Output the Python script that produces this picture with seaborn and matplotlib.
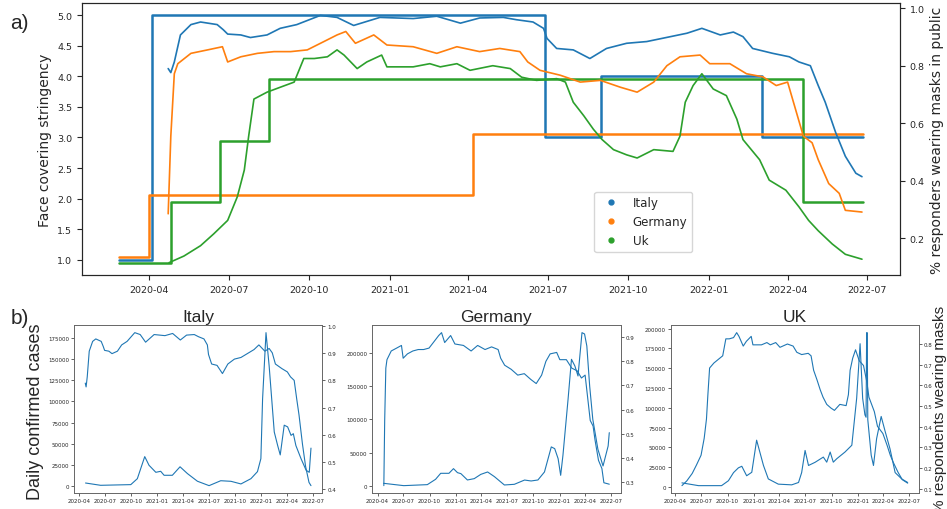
import pandas as pd
import numpy as np
import seaborn as sns
import matplotlib.pyplot as plt
import matplotlib.dates as mdates
from matplotlib.ticker import MultipleLocator
from matplotlib.lines import Line2D

sns.set_style("ticks")
plt.rcParams["font.family"] = ["DejaVu Sans"]

countries = ["Italy", "Germany", "Uk"]
panel_titles = ["Italy", "Germany", "UK"]
colors = ["#1f77b4", "#ff7f0e", "#2ca02c"]

# face covering stringency (step series, left axis of panel a)
italy_step_dates = ["2020-02-27", "2020-04-05", "2021-06-28", "2021-08-31", "2022-03-03", "2022-06-26"]
italy_step_vals = [1.0, 5.0, 3.0, 4.0, 3.0, 3.0]
germany_step_dates = ["2020-02-27", "2020-04-01", "2021-04-06", "2022-06-26"]
germany_step_vals = [1.05, 2.05, 3.05, 3.05]
uk_step_dates = ["2020-02-27", "2020-04-26", "2020-06-21", "2020-08-16", "2022-04-19", "2022-06-26"]
uk_step_vals = [0.95, 1.95, 2.95, 3.95, 1.95, 1.95]

# share of respondents wearing masks in public
italy_mask_dates = ["2020-04-23", "2020-04-26", "2020-04-30", "2020-05-07", "2020-05-19", "2020-05-30",
                    "2020-06-18", "2020-06-25", "2020-06-30", "2020-07-15", "2020-07-26", "2020-08-14",
                    "2020-08-29", "2020-09-17", "2020-10-14", "2020-11-02", "2020-11-21", "2020-12-21",
                    "2021-01-28", "2021-02-24", "2021-03-23", "2021-04-14", "2021-05-11", "2021-05-26",
                    "2021-06-14", "2021-06-26", "2021-06-30", "2021-07-11", "2021-07-30", "2021-08-18",
                    "2021-09-06", "2021-09-29", "2021-10-22", "2021-11-18", "2021-12-07", "2021-12-24",
                    "2022-01-14", "2022-01-29", "2022-02-09", "2022-02-20", "2022-03-15", "2022-04-03",
                    "2022-04-14", "2022-04-27", "2022-05-06", "2022-05-14", "2022-05-26", "2022-06-06",
                    "2022-06-18", "2022-06-25"]
italy_mask_vals = [0.79, 0.776, 0.813, 0.907, 0.943, 0.952,
                   0.943, 0.925, 0.91, 0.907, 0.898, 0.907,
                   0.93, 0.943, 0.975, 0.968, 0.94, 0.968,
                   0.964, 0.972, 0.948, 0.966, 0.968, 0.96,
                   0.952, 0.93, 0.895, 0.86, 0.855, 0.825,
                   0.86, 0.878, 0.884, 0.901, 0.913, 0.93,
                   0.907, 0.917, 0.901, 0.86, 0.843, 0.831,
                   0.813, 0.80, 0.731, 0.673, 0.567, 0.485,
                   0.426, 0.414]

germany_mask_dates = ["2020-04-23", "2020-04-26", "2020-04-30", "2020-05-04", "2020-05-19", "2020-06-07",
                      "2020-06-24", "2020-06-30", "2020-07-15", "2020-08-03", "2020-08-22", "2020-09-10",
                      "2020-09-29", "2020-10-18", "2020-11-02", "2020-11-12", "2020-11-23", "2020-12-14",
                      "2020-12-29", "2021-01-28", "2021-02-24", "2021-03-19", "2021-04-14", "2021-05-07",
                      "2021-05-30", "2021-06-08", "2021-06-22", "2021-07-15", "2021-08-07", "2021-08-30",
                      "2021-09-22", "2021-10-11", "2021-10-30", "2021-11-14", "2021-11-29", "2021-12-22",
                      "2022-01-02", "2022-01-25", "2022-02-13", "2022-03-04", "2022-03-19", "2022-04-01",
                      "2022-04-10", "2022-04-19", "2022-04-29", "2022-05-06", "2022-05-18", "2022-05-30",
                      "2022-06-06", "2022-06-25"]
germany_mask_vals = [0.285, 0.555, 0.772, 0.807, 0.843, 0.855,
                     0.866, 0.813, 0.831, 0.843, 0.849, 0.849,
                     0.855, 0.884, 0.907, 0.919, 0.878, 0.907,
                     0.872, 0.866, 0.843, 0.866, 0.849, 0.86,
                     0.849, 0.813, 0.784, 0.767, 0.743, 0.749,
                     0.725, 0.708, 0.743, 0.80, 0.831, 0.837,
                     0.807, 0.807, 0.772, 0.761, 0.731, 0.743,
                     0.649, 0.555, 0.532, 0.473, 0.39, 0.356,
                     0.297, 0.291]

uk_mask_dates = ["2020-04-24", "2020-05-11", "2020-05-30", "2020-06-14", "2020-06-30", "2020-07-11",
                 "2020-07-19", "2020-07-24", "2020-07-30", "2020-08-14", "2020-08-29", "2020-09-14",
                 "2020-09-25", "2020-10-07", "2020-10-22", "2020-11-02", "2020-11-10", "2020-11-25",
                 "2020-12-06", "2020-12-23", "2020-12-29", "2021-01-28", "2021-02-16", "2021-02-28",
                 "2021-03-19", "2021-04-03", "2021-04-29", "2021-05-19", "2021-06-01", "2021-06-18",
                 "2021-07-11", "2021-07-21", "2021-07-30", "2021-08-11", "2021-08-22", "2021-09-01",
                 "2021-09-14", "2021-09-29", "2021-10-11", "2021-10-30", "2021-11-21", "2021-11-29",
                 "2021-12-05", "2021-12-14", "2021-12-24", "2022-01-06", "2022-01-21", "2022-02-02",
                 "2022-02-09", "2022-02-28", "2022-03-11", "2022-03-30", "2022-04-14", "2022-04-25",
                 "2022-05-06", "2022-05-22", "2022-06-06", "2022-06-25"]
uk_mask_vals = [0.115, 0.138, 0.174, 0.215, 0.262, 0.344,
                0.437, 0.555, 0.684, 0.708, 0.725, 0.743,
                0.825, 0.825, 0.831, 0.855, 0.837, 0.79,
                0.813, 0.837, 0.796, 0.796, 0.807, 0.796,
                0.807, 0.784, 0.80, 0.79, 0.76, 0.749,
                0.755, 0.743, 0.673, 0.626, 0.579, 0.543,
                0.508, 0.49, 0.479, 0.508, 0.502, 0.555,
                0.673, 0.731, 0.772, 0.719, 0.696, 0.614,
                0.543, 0.473, 0.402, 0.367, 0.309, 0.262,
                0.226, 0.18, 0.144, 0.127]

# daily confirmed cases (smoothed)
italy_case_dates = ["2020-04-24", "2020-06-16", "2020-09-30", "2020-10-23", "2020-11-18", "2020-12-03",
                    "2020-12-27", "2021-01-13", "2021-01-25", "2021-02-23", "2021-03-22", "2021-04-17",
                    "2021-05-22", "2021-07-02", "2021-08-12", "2021-09-17", "2021-10-22", "2021-11-26",
                    "2021-12-19", "2021-12-31", "2022-01-06", "2022-01-18", "2022-01-29", "2022-02-07",
                    "2022-02-16", "2022-02-28", "2022-03-09", "2022-03-23", "2022-04-04", "2022-04-16",
                    "2022-04-24", "2022-05-03", "2022-05-21", "2022-06-08", "2022-06-19", "2022-06-25"]
italy_case_vals = [3900, 1200, 2000, 9000, 35000, 24800,
                   16500, 17700, 13000, 13000, 23000, 15000,
                   6000, 800, 6600, 5900, 2800, 9000,
                   17300, 32600, 103000, 181000, 142000, 103000,
                   64000, 48000, 37000, 72000, 70000, 60000,
                   62000, 48000, 32600, 18900, 16500, 45000]

germany_case_dates = ["2020-04-22", "2020-07-02", "2020-09-23", "2020-10-22", "2020-11-09", "2020-12-08",
                      "2020-12-24", "2021-01-07", "2021-01-19", "2021-02-11", "2021-03-07", "2021-03-30",
                      "2021-04-23", "2021-05-17", "2021-06-21", "2021-07-26", "2021-08-31", "2021-09-23",
                      "2021-10-17", "2021-11-09", "2021-12-03", "2021-12-15", "2021-12-27", "2022-01-05",
                      "2022-01-13", "2022-01-31", "2022-02-12", "2022-02-24", "2022-03-07", "2022-03-21",
                      "2022-03-30", "2022-04-07", "2022-04-17", "2022-04-28", "2022-05-16", "2022-06-03",
                      "2022-06-21", "2022-06-25"]
germany_case_vals = [4000, 500, 2000, 10000, 19000, 19000,
                     26000, 20000, 18500, 9000, 11000, 17400,
                     21000, 14000, 1500, 2500, 8900, 7500,
                     9000, 21000, 58600, 56000, 41000, 16000,
                     46000, 130000, 190000, 180000, 165000, 230000,
                     228000, 210000, 150000, 100000, 55000, 30000,
                     60000, 80000]

uk_case_dates = ["2020-04-24", "2020-06-21", "2020-09-10", "2020-10-04", "2020-10-22", "2020-11-08",
                 "2020-11-20", "2020-12-07", "2020-12-25", "2021-01-11", "2021-02-04", "2021-02-21",
                 "2021-03-28", "2021-05-14", "2021-06-07", "2021-06-18", "2021-06-30", "2021-07-12",
                 "2021-08-04", "2021-09-02", "2021-09-14", "2021-09-26", "2021-10-07", "2021-10-19",
                 "2021-11-17", "2021-12-11", "2021-12-28", "2022-01-09", "2022-01-18", "2022-01-26",
                 "2022-01-30", "2022-02-01", "2022-02-03", "2022-02-05", "2022-02-17", "2022-02-25",
                 "2022-03-08", "2022-03-24", "2022-04-07", "2022-04-24", "2022-05-12", "2022-06-04",
                 "2022-06-25"]
uk_case_vals = [5000, 1500, 1500, 7700, 18000, 24000,
                26000, 14000, 18400, 59000, 27000, 10000,
                3400, 2500, 5500, 18000, 46000, 27000,
                31000, 37600, 31200, 44000, 31200, 35500,
                44000, 52600, 112000, 181000, 112000, 91000,
                88000, 195000, 195000, 85000, 40000, 27000,
                61000, 89000, 70000, 48000, 18000, 10000,
                5500]

step_dates = [italy_step_dates, germany_step_dates, uk_step_dates]
step_vals = [italy_step_vals, germany_step_vals, uk_step_vals]
mask_dates = [italy_mask_dates, germany_mask_dates, uk_mask_dates]
mask_vals = [italy_mask_vals, germany_mask_vals, uk_mask_vals]
case_dates = [italy_case_dates, germany_case_dates, uk_case_dates]
case_vals = [italy_case_vals, germany_case_vals, uk_case_vals]
case_ticks = [25000, 50000, 25000]


def draw(ax, dates, vals, color, lw, **kw):
    sns.lineplot(x=pd.to_datetime(dates), y=vals, ax=ax, color=color,
                 linewidth=lw, estimator=None, legend=False, **kw)
    ax.set_xlabel("")
    ax.set_ylabel("")


def date_axis(ax, size):
    ax.xaxis.set_major_locator(mdates.MonthLocator(bymonth=(1, 4, 7, 10)))
    ax.xaxis.set_major_formatter(mdates.DateFormatter("%Y-%m"))
    ax.tick_params(axis="x", labelsize=size)


fig = plt.figure(figsize=(9.47, 5.10), dpi=100)

# a) stringency vs mask wearing
ax = fig.add_axes([0.0866, 0.4588, 0.8638, 0.5333])
ax2 = ax.twinx()
for i in range(3):
    draw(ax, step_dates[i], step_vals[i], colors[i], 1.8, drawstyle="steps-post")
    draw(ax2, mask_dates[i], mask_vals[i], colors[i], 1.2)
ax.set_ylabel("Face covering stringency", fontsize=10)
ax2.set_ylabel("% responders wearing masks in public", fontsize=10)
ax.yaxis.set_major_locator(MultipleLocator(0.5))
ax2.yaxis.set_major_locator(MultipleLocator(0.2))
date_axis(ax, 6.8)
ax.tick_params(axis="y", labelsize=6.8)
ax2.tick_params(axis="y", labelsize=6.8)
handles = [Line2D([], [], linestyle="none", marker="o", markersize=3.5, color=c) for c in colors]
ax2.legend(handles, countries, loc="lower left", bbox_to_anchor=(0.619, 0.0625), fontsize=8.6)

# b) cases vs mask wearing per country
lefts = [0.0781, 0.3931, 0.7082]
for i in range(3):
    axb = fig.add_axes([lefts[i], 0.0308, 0.2622, 0.33])
    axb2 = axb.twinx()
    draw(axb, case_dates[i], case_vals[i], colors[0], 0.8)
    draw(axb2, mask_dates[i], mask_vals[i], colors[0], 0.8)
    axb.yaxis.set_major_locator(MultipleLocator(case_ticks[i]))
    axb2.yaxis.set_major_locator(MultipleLocator(0.1))
    date_axis(axb, 4)
    for a in (axb, axb2):
        a.tick_params(labelsize=4, length=2, width=0.5, pad=1.5)
        for s in a.spines.values():
            s.set_linewidth(0.6)
            s.set_color("0.4")
    axb.set_title(panel_titles[i], fontsize=12.5, family="Liberation Sans", pad=3)

fig.text(0.011, 0.953, "a)", fontsize=15, family="Liberation Sans", va="center")
fig.text(0.011, 0.376, "b)", fontsize=15, family="Liberation Sans", va="center")
fig.text(0.037, 0.192, "Daily confirmed cases", fontsize=13, family="Liberation Sans",
         rotation=90, ha="center", va="center")
# the reference crops this label at the right edge of the figure
fig.text(0.9925, 0.198, "% respondents wearing masks", fontsize=11, family="Liberation Sans",
         rotation=90, ha="center", va="center")

fig.savefig("out.png", dpi=100)
